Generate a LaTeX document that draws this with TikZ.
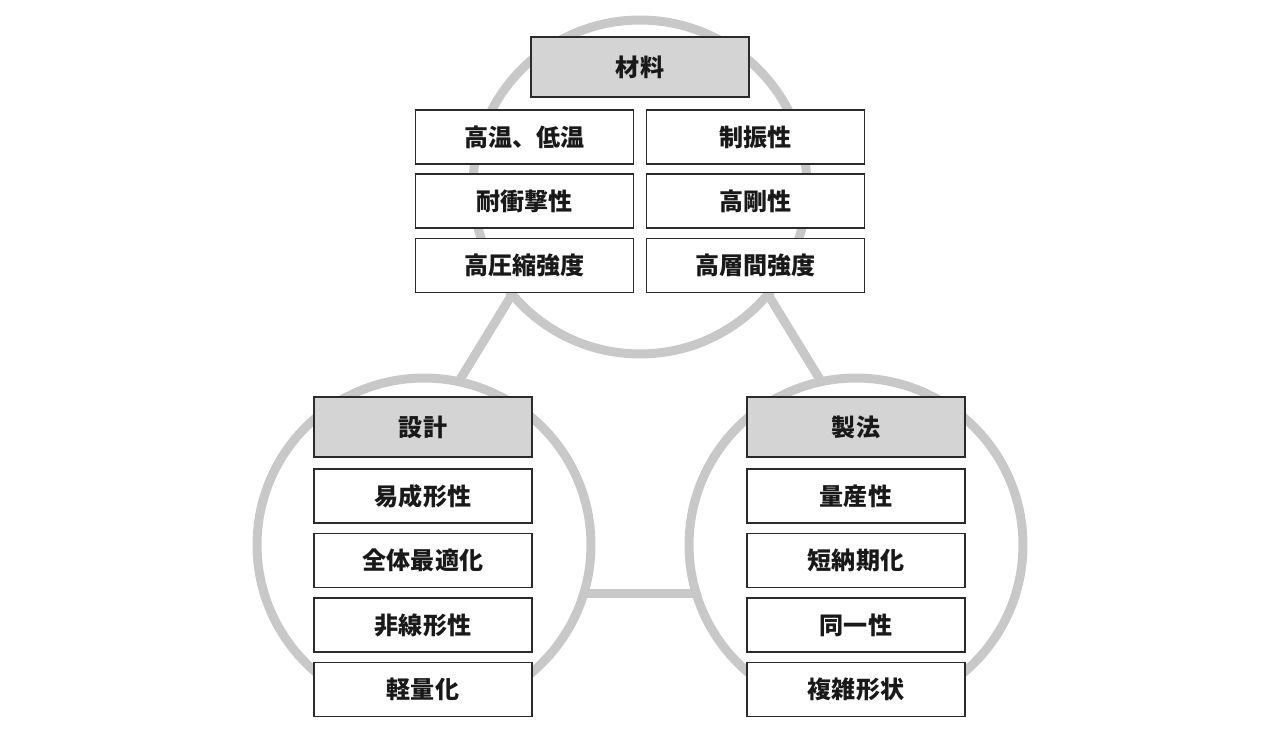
\documentclass[tikz,border=0pt]{standalone}
\usepackage{fontspec}
\newfontfamily\cjk{Noto Sans CJK JP}
\definecolor{ringgray}{HTML}{C8C8C8}
\definecolor{headgray}{HTML}{D4D4D4}
\definecolor{boxline}{HTML}{2B2B2B}
\begin{document}
\begin{tikzpicture}[x=0.02cm, y=-0.02cm,
	ring/.style={shape=circle, draw=ringgray, line width=0.18cm, minimum size=6.68cm, inner sep=0pt, outer sep=0pt},
	link/.style={draw=ringgray, line width=0.18cm},
	item/.style={shape=rectangle, draw=boxline, fill=white, line width=0.8pt, minimum width=4.36cm, minimum height=1.08cm, text=black!90, font=\cjk\bfseries\fontsize{13.7}{15}\selectfont},
	head/.style={item, fill=headgray, minimum height=1.2cm}]
	\useasboundingbox (0, 0) rectangle (1280, 736);
	% Circles and links:
	\node[ring] (zairyo) at (640, 187){};
	\node[ring] (sekkei) at (424, 545){};
	\node[ring] (seihou) at (856, 545){};
	\draw[link] (zairyo.220) -- (sekkei.78);
	\draw[link] (zairyo.320) -- (seihou.102);
	\draw[link] (sekkei.-17) -- (seihou.197);
	% Material boxes:
	\node[head] (zairyoHead) at (640, 67){材料};
	\node[item] (kouon) at (524.5, 137){高温、低温};
	\node[item] (seishin) at (755.5, 137){制振性};
	\node[item] (taishou) at (524.5, 201){耐衝撃性};
	\node[item] (kougou) at (755.5, 201){高剛性};
	\node[item] (kouasshuku) at (524.5, 265.5){高圧縮強度};
	\node[item] (kousoukan) at (755.5, 265.5){高層間強度};
	% Design boxes:
	\node[head] (sekkeiHead) at (423, 427){設計};
	\node[item] (iseikei) at (423, 496){易成形性};
	\node[item] (zentai) at (423, 560.5){全体最適化};
	\node[item] (hisenkei) at (423, 625){非線形性};
	\node[item] (keiryou) at (423, 689.5){軽量化};
	% Process boxes:
	\node[head] (seihouHead) at (856, 427){製法};
	\node[item] (ryousan) at (856, 496){量産性};
	\node[item] (tannouki) at (856, 560.5){短納期化};
	\node[item] (douitsu) at (856, 625){同一性};
	\node[item] (fukuzatsu) at (856, 689.5){複雑形状};
\end{tikzpicture}
\end{document}
